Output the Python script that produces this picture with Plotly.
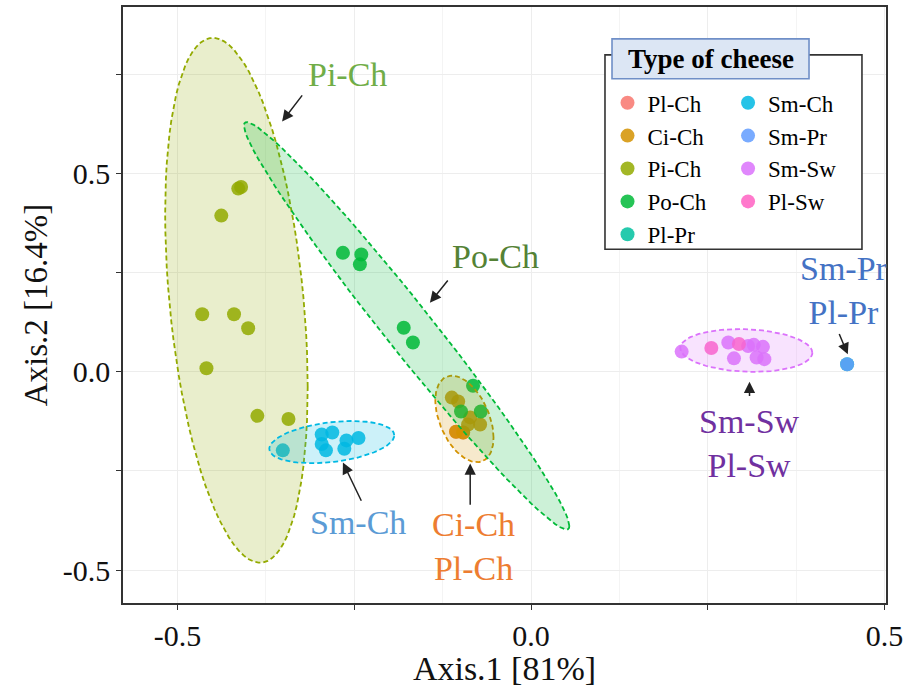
import numpy as np
import plotly.graph_objects as go

# ---------------- data ----------------
groups = ["Pl-Ch", "Ci-Ch", "Pi-Ch", "Po-Ch", "Pl-Pr", "Sm-Ch", "Sm-Pr", "Sm-Sw", "Pl-Sw"]
colors = ["#F8766D", "#D39200", "#93AA00", "#00BA38", "#00C19F", "#00B9E3", "#619CFF", "#DB72FB", "#FF61C3"]
legend_col = ["legend", "legend", "legend", "legend", "legend", "legend2", "legend2", "legend2", "legend2"]

pl_ch_x = [-0.106, -0.096]
pl_ch_y = [-0.151, -0.153]
ci_ch_x = [-0.112, -0.103, -0.086, -0.072, -0.089, -0.096, -0.106]
ci_ch_y = [-0.065, -0.075, -0.115, -0.133, -0.133, -0.153, -0.151]
pi_ch_x = [-0.410, -0.414, -0.438, -0.465, -0.420, -0.400, -0.459, -0.387, -0.343]
pi_ch_y = [0.466, 0.462, 0.394, 0.145, 0.145, 0.110, 0.009, -0.111, -0.119]
po_ch_x = [-0.266, -0.240, -0.242, -0.180, -0.167, -0.082, -0.099, -0.071]
po_ch_y = [0.300, 0.296, 0.271, 0.111, 0.074, -0.035, -0.100, -0.100]
pl_pr_x = [0.447]
pl_pr_y = [0.019]
sm_ch_x = [-0.351, -0.296, -0.281, -0.290, -0.261, -0.264, -0.244, -0.296]
sm_ch_y = [-0.198, -0.158, -0.153, -0.198, -0.173, -0.194, -0.167, -0.182]
sm_pr_x = [0.447]
sm_pr_y = [0.019]
sm_sw_x = [0.213, 0.279, 0.287, 0.307, 0.315, 0.328, 0.319, 0.330]
sm_sw_y = [0.051, 0.074, 0.034, 0.065, 0.068, 0.063, 0.036, 0.032]
pl_sw_x = [0.255, 0.294]
pl_sw_y = [0.060, 0.070]

xs = [pl_ch_x, ci_ch_x, pi_ch_x, po_ch_x, pl_pr_x, sm_ch_x, sm_pr_x, sm_sw_x, pl_sw_x]
ys = [pl_ch_y, ci_ch_y, pi_ch_y, po_ch_y, pl_pr_y, sm_ch_y, sm_pr_y, sm_sw_y, pl_sw_y]

x_tick_vals = [-0.5, -0.25, 0.0, 0.25, 0.5]
x_tick_text = ["-0.5", "", "0.0", "", "0.5"]
y_tick_vals = [-0.5, -0.25, 0.0, 0.25, 0.5, 0.75]
y_tick_text = ["-0.5", "", "0.0", "", "0.5", ""]

# label annotations: text, x, y, color
label_text = ["Pi-Ch", "Po-Ch", "Sm-Ch", "Ci-Ch<br>Pl-Ch", "Sm-Sw<br>Pl-Sw", "Sm-Pr<br>Pl-Pr"]
label_x = [-0.260, -0.050, -0.244, -0.082, 0.309, 0.442]
label_y = [0.751, 0.291, -0.379, -0.441, -0.182, 0.206]
label_color = ["#70AD47", "#548235", "#5B9BD5", "#ED7D31", "#7030A0", "#4472C4"]
# arrows: tail (x, y) -> head (x, y)
arrow_tail_x = [-0.322, -0.116, -0.239, -0.086, 0.309, 0.435]
arrow_tail_y = [0.701, 0.234, -0.329, -0.339, -0.065, 0.099]
arrow_head_x = [-0.352, -0.143, -0.266, -0.086, 0.309, 0.448]
arrow_head_y = [0.631, 0.174, -0.229, -0.231, -0.025, 0.044]

FONT = "Liberation Serif, Times New Roman, serif"
ELLIPSE_LEVEL = 0.965


# ---------------- ellipse (like ggplot2 stat_ellipse, type "t") ----------------
def cov_trob(X, nu=5, maxit=25, tol=0.01):
    n, p = X.shape
    wt = np.ones(n)
    loc = X.mean(axis=0)
    w = np.sqrt(wt)
    Xc = X - loc
    for _ in range(maxit):
        w0 = w
        Xc = X - loc
        A = np.sqrt(w / w.sum())[:, None] * Xc
        _, d, Vt = np.linalg.svd(A, full_matrices=False)
        wX = Xc @ Vt.T @ np.diag(1.0 / d)
        Q = (wX ** 2).sum(axis=1)
        w = (wt * (nu + p)) / (nu + Q)
        loc = (w[:, None] * X).sum(axis=0) / w.sum()
        if np.all(np.abs(w - w0) < tol):
            break
    cov = (np.sqrt(w)[:, None] * Xc).T @ (np.sqrt(w)[:, None] * Xc) / wt.sum()
    return loc, cov


def ellipse(px, py, level=0.95, segments=90):
    X = np.column_stack([px, py])
    n = len(px)
    center, shape = cov_trob(X)
    U = np.linalg.cholesky(shape).T
    dfd = n - 1
    qf = (dfd / 2.0) * ((1 - level) ** (-2.0 / dfd) - 1)
    radius = np.sqrt(2 * qf)
    ang = np.linspace(0, 2 * np.pi, segments + 1)
    circ = np.column_stack([np.cos(ang), np.sin(ang)])
    e = center + radius * (circ @ U)
    return e[:, 0], e[:, 1]


def rgba(hexc, a):
    h = hexc.lstrip("#")
    r, g, b = int(h[0:2], 16), int(h[2:4], 16), int(h[4:6], 16)
    return f"rgba({r},{g},{b},{a})"


fig = go.Figure()

# points
for g, c, lg, px, py in zip(groups, colors, legend_col, xs, ys):
    fig.add_trace(go.Scatter(
        x=px, y=py, mode="markers", name=g, legend=lg,
        marker=dict(color=c, size=14, opacity=0.85, line=dict(width=0)),
    ))

# ellipses (drawn over points, as in ggplot)
for g, c, px, py in zip(groups, colors, xs, ys):
    if len(px) >= 3:
        ex, ey = ellipse(px, py, level=ELLIPSE_LEVEL)
        fig.add_trace(go.Scatter(
            x=ex, y=ey, mode="lines", fill="toself",
            fillcolor=rgba(c, 0.2), line=dict(color=c, width=1.8, dash="5px,3px"),
            showlegend=False, hoverinfo="skip",
        ))

# labels
for t, lx, ly, lc in zip(label_text, label_x, label_y, label_color):
    fig.add_annotation(x=lx, y=ly, text=t, showarrow=False,
                       font=dict(family=FONT, size=34, color=lc))
# arrows
for tx, ty, hx, hy in zip(arrow_tail_x, arrow_tail_y, arrow_head_x, arrow_head_y):
    fig.add_annotation(x=hx, y=hy, ax=tx, ay=ty, xref="x", yref="y", axref="x", ayref="y",
                       text="", showarrow=True, arrowhead=2, arrowsize=1.5,
                       arrowwidth=1.5, arrowcolor="#222222")

# legend frame and title box
fig.add_shape(type="rect", xref="paper", yref="paper", x0=0.6317, x1=0.9685, y0=0.5936, y1=0.9197,
              line=dict(color="#333333", width=1.6), fillcolor="white", layer="above")
fig.add_shape(type="rect", xref="paper", yref="paper", x0=0.6409, x1=0.8991, y0=0.8796, y1=0.9465,
              line=dict(color="#6F8FC7", width=1.6), fillcolor="#DCE6F4", layer="above")
fig.add_annotation(xref="paper", yref="paper", x=0.7700, y=0.9130, xanchor="center", yanchor="middle",
                   text="<b>Type of cheese</b>",
                   showarrow=False, font=dict(family=FONT, size=27, color="black"))

grid_major = "#EDEDED"
grid_minor = "#F4F4F4"

legend_common = dict(
    orientation="v", xanchor="left", yanchor="top",
    bgcolor="rgba(0,0,0,0)", borderwidth=0,
    font=dict(family=FONT, size=23, color="black"),
    itemclick=False, tracegroupgap=0,
)

fig.update_layout(
    width=909, height=687,
    margin=dict(l=123, r=23, t=5, b=84),
    plot_bgcolor="white", paper_bgcolor="white",
    font=dict(family=FONT, color="black"),
    showlegend=True,
    legend=dict(x=0.635, y=0.8754, **legend_common),
    legend2=dict(x=0.793, y=0.8754, **legend_common),
    xaxis=dict(
        range=[-0.577, 0.502], tickvals=x_tick_vals, ticktext=x_tick_text,
        showgrid=True, gridcolor=grid_major, gridwidth=1.3, zeroline=False,
        showline=True, mirror=True, linecolor="#333333", linewidth=1.6,
        ticks="outside", ticklen=5, tickcolor="#333333", tickwidth=1.3,
        tickfont=dict(family=FONT, size=30, color="#111111"),
        minor=dict(tickvals=[-0.375, -0.125, 0.125, 0.375], showgrid=True,
                   gridcolor=grid_minor, gridwidth=1, ticks=""),
        title=dict(text="Axis.1 [81%]", font=dict(family=FONT, size=34, color="#111111"), standoff=3),
    ),
    yaxis=dict(
        range=[-0.583, 0.92], tickvals=y_tick_vals, ticktext=y_tick_text,
        showgrid=True, gridcolor=grid_major, gridwidth=1.3, zeroline=False,
        showline=True, mirror=True, linecolor="#333333", linewidth=1.6,
        ticks="outside", ticklen=5, tickcolor="#333333", tickwidth=1.3,
        tickfont=dict(family=FONT, size=30, color="#111111"),
        title=dict(text="Axis.2 [16.4%]", font=dict(family=FONT, size=33, color="#111111"), standoff=5),
    ),
)

fig.write_html("out.html")
